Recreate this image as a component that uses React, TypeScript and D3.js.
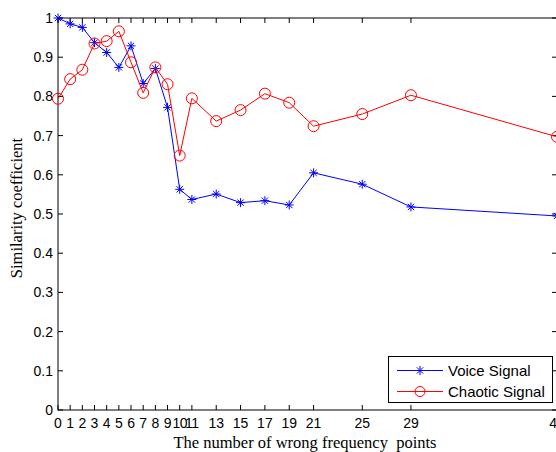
import React from 'react';
import * as d3 from 'd3';

// x positions (number of wrong frequency points)
const points = [0, 1, 2, 3, 4, 5, 6, 7, 8, 9, 10, 11, 13, 15, 17, 19, 21, 25, 29, 41];
const voice = [1.0, 0.985, 0.976, 0.937, 0.912, 0.874, 0.929, 0.833, 0.871, 0.772, 0.563, 0.537, 0.551, 0.529, 0.534, 0.523, 0.605, 0.576, 0.518, 0.495];
const chaotic = [0.794, 0.844, 0.868, 0.935, 0.941, 0.966, 0.887, 0.809, 0.874, 0.831, 0.649, 0.795, 0.737, 0.765, 0.807, 0.784, 0.724, 0.755, 0.803, 0.697];
const xTicks = [0, 1, 2, 3, 4, 5, 6, 7, 8, 9, 10, 11, 13, 15, 17, 19, 21, 25, 29, 41];
const yTicks = [0, 0.1, 0.2, 0.3, 0.4, 0.5, 0.6, 0.7, 0.8, 0.9, 1];

const W = 556;
const H = 452;
const margin = { top: 18, right: -1, bottom: 42, left: 58 };

const starPath = (s: number) =>
  `M${-s},0L${s},0M0,${-s}L0,${s}M${-s * 0.7},${-s * 0.7}L${s * 0.7},${s * 0.7}M${-s * 0.7},${s * 0.7}L${s * 0.7},${-s * 0.7}`;

export default function App() {
  const x = d3.scaleLinear().domain([0, 41]).range([margin.left, W - margin.right]);
  const y = d3.scaleLinear().domain([0, 1]).range([H - margin.bottom, margin.top]);

  const line = d3.line<number>()
    .x((_, i) => x(points[i]))
    .y((d) => y(d));

  const x0 = x.range()[0], x1 = x.range()[1];
  const y0 = y.range()[0], y1 = y.range()[1];
  const tickFont = 'Liberation Sans, Arial, sans-serif';
  const labelFont = 'Liberation Serif, Times New Roman, serif';

  return (
    <svg width={W} height={H} style={{ position: 'absolute', left: 0, top: 0, background: '#fff' }}>
      <rect x={0} y={0} width={W} height={H} fill="#fff" />
      {/* axes box */}
      <rect x={x0} y={y1} width={x1 - x0} height={y0 - y1} fill="none" stroke="#000" strokeWidth={1} />
      {/* x ticks */}
      {xTicks.map((t) => (
        <g key={'x' + t}>
          <line x1={x(t)} x2={x(t)} y1={y0} y2={y0 - 5} stroke="#000" />
          <line x1={x(t)} x2={x(t)} y1={y1} y2={y1 + 5} stroke="#000" />
          <text x={x(t)} y={y0 + 18} textAnchor="middle" fontFamily={tickFont} fontSize={14} fill="#000"
            letterSpacing={t >= 10 && t <= 11 ? -0.5 : 0}>{t}</text>
        </g>
      ))}
      {/* y ticks */}
      {yTicks.map((t) => (
        <g key={'y' + t}>
          <line x1={x0} x2={x0 + 5} y1={y(t)} y2={y(t)} stroke="#000" />
          <line x1={x1} x2={x1 - 5} y1={y(t)} y2={y(t)} stroke="#000" />
          <text x={x0 - 5} y={y(t) + 5} textAnchor="end" fontFamily={tickFont} fontSize={14} fill="#000">{t}</text>
        </g>
      ))}
      {/* series */}
      <path d={line(voice) || ''} fill="none" stroke="#0000ff" strokeWidth={1} />
      {voice.map((v, i) => (
        <path key={'v' + i} d={starPath(4.5)} transform={`translate(${x(points[i])},${y(v)})`} stroke="#0000ff" fill="none" strokeWidth={1} />
      ))}
      <path d={line(chaotic) || ''} fill="none" stroke="#ff0000" strokeWidth={1} />
      {chaotic.map((v, i) => (
        <circle key={'c' + i} cx={x(points[i])} cy={y(v)} r={5.5} stroke="#ff0000" fill="none" strokeWidth={1} />
      ))}
      {/* axis labels */}
      <text x={305} y={448} textAnchor="middle" fontFamily={labelFont} fontSize={16.5} fill="#000" style={{ whiteSpace: 'pre' }}>
        The number of wrong frequency  points
      </text>
      <text transform={`translate(22,208) rotate(-90)`} textAnchor="middle" fontFamily={labelFont} fontSize={16.5} fill="#000">
        Similarity coefficient
      </text>
      {/* legend */}
      <g>
        <rect x={388.5} y={356.5} width={164} height={46} fill="#fff" stroke="#000" strokeWidth={1} />
        <line x1={397} x2={443} y1={370.5} y2={370.5} stroke="#0000ff" />
        <path d={starPath(4.5)} transform="translate(420,370.5)" stroke="#0000ff" fill="none" />
        <text x={448} y={376} fontFamily={tickFont} fontSize={15} fill="#000">Voice Signal</text>
        <line x1={397} x2={443} y1={391.5} y2={391.5} stroke="#ff0000" />
        <circle cx={420} cy={391.5} r={5} stroke="#ff0000" fill="none" />
        <text x={448} y={397} fontFamily={tickFont} fontSize={15} fill="#000">Chaotic Signal</text>
      </g>
    </svg>
  );
}
